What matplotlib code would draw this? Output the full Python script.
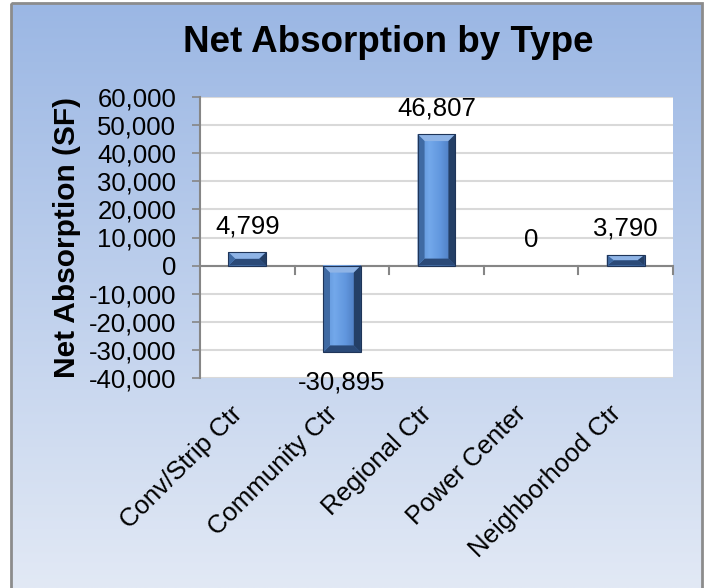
import numpy as np
import matplotlib
matplotlib.use("Agg")
import matplotlib.pyplot as plt
from matplotlib.patches import Polygon, Rectangle

plt.rcParams['font.family'] = ['Liberation Sans', 'DejaVu Sans']

# data
categories = ["Conv/Strip Ctr", "Community Ctr", "Regional Ctr", "Power Center", "Neighborhood Ctr"]
values = [4799, -30895, 46807, 0, 3790]
y_ticks = [-40000, -30000, -20000, -10000, 0, 10000, 20000, 30000, 40000, 50000, 60000]

W, H = 706, 588
fig = plt.figure(figsize=(W / 100, H / 100), dpi=100)

# gradient background inside the gray frame
bg = fig.add_axes([0, 0, 1, 1], zorder=-10)
bg.set_axis_off()
bg.set_xlim(0, W)
bg.set_ylim(H, 0)
top_c = np.array([155, 183, 228]) / 255
bot_c = np.array([226, 233, 245]) / 255
t = np.linspace(0, 1, 256)[:, None, None]
grad = top_c * (1 - t) + bot_c * t
grad = np.repeat(grad, 2, axis=1)
bg.imshow(grad, extent=[11, 702, H, 3], aspect='auto', zorder=0)
bg.add_patch(Rectangle((11, 3), 691, H + 10, fill=False, edgecolor='#8c8c8c', lw=2, zorder=1))

ax = fig.add_axes([200 / W, 1 - 378 / H, 473 / W, 281 / H])
ax.set_facecolor('white')
ax.set_xlim(-0.5, len(categories) - 0.5)
ax.set_ylim(-40000, 60000)

x = np.arange(len(categories))
width = 0.40
bars = ax.bar(x, values, width=width, color='#4a7ebb', edgecolor='none', lw=0, zorder=3)

# bevel look on each bar
px_x = 1 / 94.6
px_y = 100000 / 281
face = np.array([[0.36, 0.56, 0.83], [0.45, 0.66, 0.92], [0.38, 0.59, 0.87], [0.27, 0.44, 0.70]])
for b, v in zip(bars, values):
    if v == 0:
        continue
    x0, x1 = b.get_x(), b.get_x() + b.get_width()
    y0, y1 = min(0, v), max(0, v)
    dx = 7 * px_x
    dy = min(7 * px_y, (y1 - y0) / 2)
    xs = np.linspace(0, 1, 64)
    cols = np.array([np.interp(xs, [0, 0.3, 0.6, 1], face[:, k]) for k in range(3)]).T[None, :, :]
    ax.imshow(cols, extent=[x0, x1, y0, y1], aspect='auto', zorder=3.1)
    polys = [
        ([(x0, y1), (x1, y1), (x1 - dx, y1 - dy), (x0 + dx, y1 - dy)], '#8fb4e6'),
        ([(x0, y0), (x1, y0), (x1 - dx, y0 + dy), (x0 + dx, y0 + dy)], '#2b4a78'),
        ([(x0, y0), (x0, y1), (x0 + dx, y1 - dy), (x0 + dx, y0 + dy)], '#3f6aa3'),
        ([(x1, y0), (x1, y1), (x1 - dx, y1 - dy), (x1 - dx, y0 + dy)], '#243f66'),
    ]
    for pts, c in polys:
        ax.add_patch(Polygon(pts, closed=True, facecolor=c, edgecolor='none', zorder=3.2))
    ax.add_patch(Rectangle((x0, y0), x1 - x0, y1 - y0, fill=False, edgecolor='#1f3559', lw=0.8, zorder=3.3))

# data labels
for xi, v in zip(x, values):
    if v < 0:
        ax.annotate(f"{v:,}", (xi, v), xytext=(0, -30), textcoords='offset pixels',
                    ha='center', va='center', fontsize=18.5, zorder=5, annotation_clip=False)
    else:
        ax.annotate(f"{v:,}", (xi, v), xytext=(0, 26), textcoords='offset pixels',
                    ha='center', va='center', fontsize=18.5, zorder=5)

# grid and axes
ax.set_yticks(y_ticks)
ax.set_yticklabels([f"{v:,}" for v in y_ticks], fontsize=18.5)
ax.yaxis.grid(True, color='#d9d9d9', lw=1.5, zorder=0)
ax.set_axisbelow(True)
for s in ['top', 'right', 'bottom']:
    ax.spines[s].set_visible(False)
ax.spines['left'].set_color('#868686')
ax.spines['left'].set_linewidth(1.5)
ax.tick_params(axis='y', length=6, width=1.2, color='#868686', pad=11)

ax.axhline(0, color='#868686', lw=1.5, zorder=2)
for bnd in np.arange(0.5, len(categories), 1.0):
    ax.plot([bnd, bnd], [0, -8 * px_y], color='#868686', lw=1.5, zorder=2, clip_on=False)

ax.set_xticks(x)
ax.set_xticklabels(categories, rotation=45, ha='right', va='top', fontsize=18.5)
for lbl in ax.get_xticklabels():
    lbl.set_x(lbl.get_position()[0])
ax.tick_params(axis='x', length=0, pad=17)

ax.set_ylabel("Net Absorption (SF)", fontsize=21.5, fontweight='bold', labelpad=6)

fig.text(388 / W, 1 - 42 / H, "Net Absorption by Type", ha='center', va='center',
         fontsize=26.5, fontweight='bold')

fig.savefig("out.png", dpi=100, facecolor='white')
